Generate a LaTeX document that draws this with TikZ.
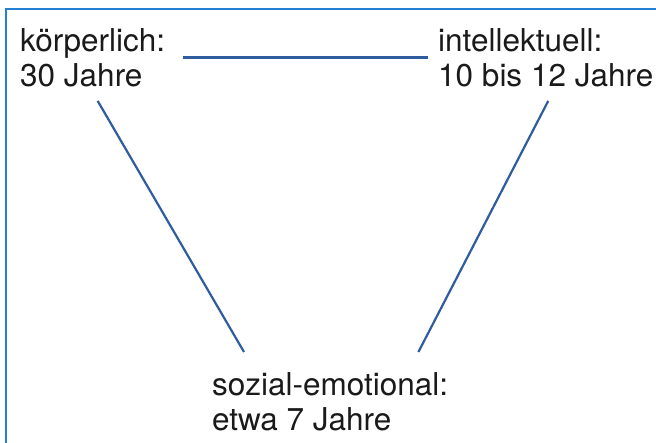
\documentclass[tikz,border=0pt]{standalone}
\usepackage{fontspec}
\setmainfont{TeX Gyre Heros}
\definecolor{framelinie}{RGB}{38, 128, 210}
\definecolor{verbindung}{RGB}{46, 92, 158}
\definecolor{schrift}{RGB}{26, 26, 26}
\usepackage{tikz}
\usetikzlibrary{positioning, calc}

\begin{document}
\begin{tikzpicture}[x=1pt, y=1pt,
        stufe/.style={inner sep=0pt, anchor=north west, align=left, text=schrift,
            font=\fontsize{31.5}{35}\selectfont},
        link/.style={draw=verbindung, line width=2.2pt},
        rahmen/.style={draw=framelinie, line width=2pt}]
        \useasboundingbox (0,0) rectangle (656,443);
        \draw[rahmen] (656,434) -- (6,434) -- (6,0);
        \node[stufe] (koerper) at (20,415) {k\"orperlich:\\30 Jahre};
        \node[stufe] (intell) at (438,415) {intellektuell:\\10 bis 12 Jahre};
        \node[stufe] (sozial) at (212,71) {sozial-emotional:\\etwa 7 Jahre};
        \draw[link] ([xshift=18pt]koerper.east) -- ([xshift=-10pt]intell.west);
        \draw[link] ([shift={(5pt,-14pt)}]koerper.south) -- ([shift={(32pt,20pt)}]sozial.north west);
        \draw[link] ([shift={(2.5pt,-14pt)}]intell.south) -- ([shift={(-30pt,20pt)}]sozial.north east);
    \end{tikzpicture}
\end{document}
